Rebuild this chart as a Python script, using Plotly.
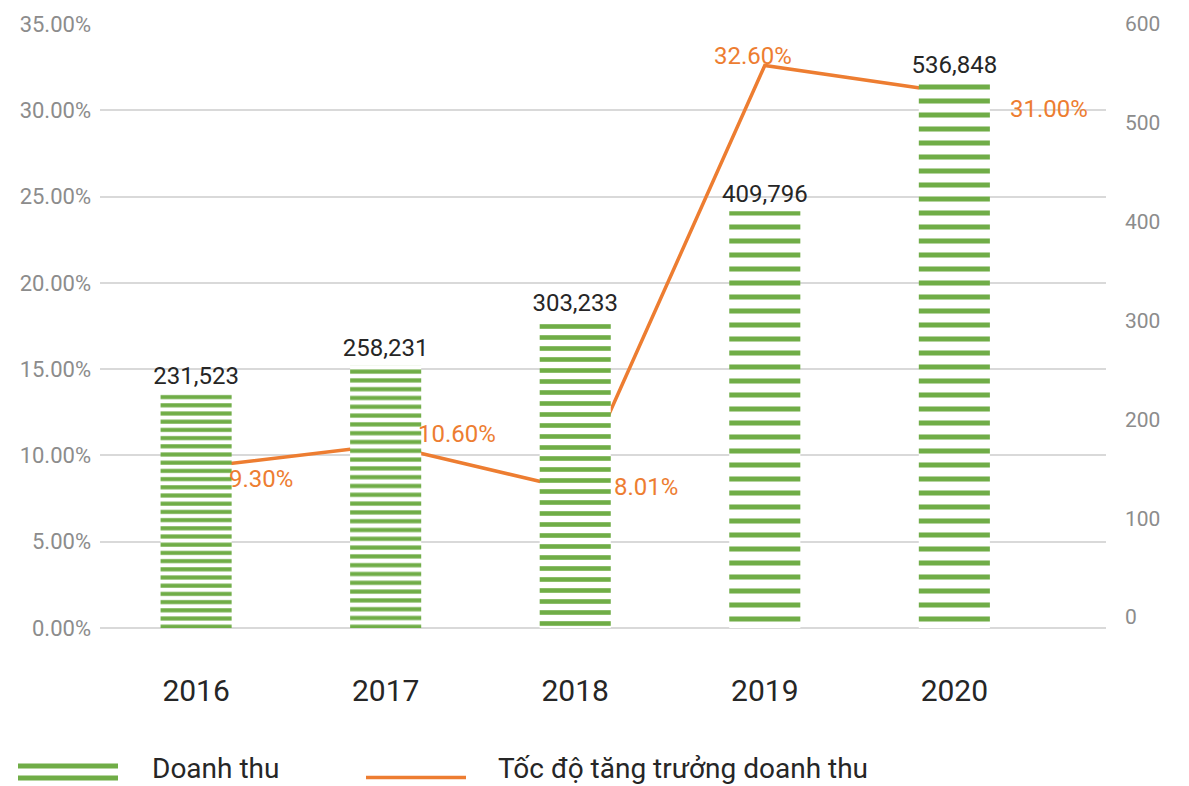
import plotly.graph_objects as go

# ---- data ----
years = ["2016", "2017", "2018", "2019", "2020"]
revenue = [231.523, 258.231, 303.233, 409.796, 536.848]
revenue_labels = ["231,523", "258,231", "303,233", "409,796", "536,848"]
growth = [9.30, 10.60, 8.01, 32.60, 31.00]
growth_labels = ["9.30%", "10.60%", "8.01%", "32.60%", "31.00%"]
right_ticks = [0, 100, 200, 300, 400, 500, 600]

# ---- styling ----
GREEN = "#70AD47"
ORANGE = "#ED7D31"
GRAY = "#8C8C8C"
GRID = "#D9D9D9"
FONT = "Roboto"

W, H = 1189, 786
L, R, T, B = 100, 1106, 22, 628  # plot area in pixels


def px(x):
    return (x - L) / (R - L)


def py(y):
    return (B - y) / (B - T)


stripe_size = [8.2, 8.8, 11, 14, 14]
stripe_solid = [0.5, 0.48, 0.42, 0.36, 0.36]

fig = go.Figure()

fig.add_trace(go.Bar(
    x=years, y=revenue, yaxis="y3", width=0.375,
    name="Doanh thu",
    marker=dict(color="white", line=dict(width=0),
                pattern=dict(shape="-", fgcolor=GREEN, bgcolor="white",
                             size=stripe_size, solidity=stripe_solid,
                             fillmode="replace")),
    text=revenue_labels, textposition="outside", constraintext="none",
    textfont=dict(family=FONT, size=24, color="#262626"),
    cliponaxis=False, showlegend=False,
))

fig.add_trace(go.Scatter(
    x=years, y=growth, yaxis="y", mode="lines",
    line=dict(color=ORANGE, width=3.5),
    name="Tốc độ tăng trưởng doanh thu", showlegend=False,
))

# empty trace so that the right-hand value axis is drawn
fig.add_trace(go.Scatter(x=[], y=[], yaxis="y2", mode="lines",
                         showlegend=False, hoverinfo="skip"))

# growth labels (offsets relative to each point); x given as category index
offs = [(31, -11, "left"), (30, 11, "left"), (37, 3, "left"),
        (-12, 9, "center"), (54, -16, "left")]
for i, (g, lab, (dx, dy, xa)) in enumerate(zip(growth, growth_labels, offs)):
    fig.add_annotation(x=i, y=g, xref="x", yref="y", text=lab,
                       showarrow=False, xanchor=xa, yanchor="middle",
                       xshift=dx, yshift=dy,
                       font=dict(family=FONT, size=24, color=ORANGE))

# ---- custom legend ----
shapes = []
for y0, y1 in [(764, 769), (776, 781)]:
    shapes.append(dict(type="rect", xref="paper", yref="paper",
                       x0=px(18), x1=px(118), y0=py(y1), y1=py(y0),
                       fillcolor=GREEN, line=dict(width=0)))
shapes.append(dict(type="line", xref="paper", yref="paper",
                   x0=px(366), x1=px(466), y0=py(778), y1=py(778),
                   line=dict(color=ORANGE, width=3.5)))
fig.add_annotation(x=px(150), y=py(769), xref="paper", yref="paper",
                   text="Doanh thu", showarrow=False, xanchor="left",
                   yanchor="middle", font=dict(family=FONT, size=28, color="#262626"))
fig.add_annotation(x=px(496), y=py(769), xref="paper", yref="paper",
                   text="Tốc độ tăng trưởng doanh thu", showarrow=False,
                   xanchor="left", yanchor="middle",
                   font=dict(family=FONT, size=28, color="#262626"))

fig.update_layout(
    width=W, height=H,
    margin=dict(l=L, r=W - R, t=T, b=H - B),
    paper_bgcolor="white", plot_bgcolor="white",
    shapes=shapes,
    xaxis=dict(type="category", range=[-0.507, 4.8], showgrid=False,
               showline=False, ticks="", ticklabelstandoff=42,
               tickfont=dict(family=FONT, size=30, color="#262626")),
    yaxis=dict(range=[0, 35], dtick=5, tick0=0, tickformat=".2f",
               ticksuffix="%", showgrid=True, gridcolor=GRID, gridwidth=2,
               zeroline=True, zerolinecolor=GRID, zerolinewidth=2,
               showline=False, ticks="", ticklabelstandoff=8,
               tickfont=dict(family=FONT, size=22, color=GRAY)),
    yaxis2=dict(overlaying="y", side="right", anchor="x", range=[-11, 600.01],
                tickvals=right_ticks,
                showgrid=False, zeroline=False, showline=False, ticks="",
                ticklabelstandoff=18,
                tickfont=dict(family=FONT, size=21, color=GRAY)),
    yaxis3=dict(overlaying="y", side="right", range=[0, 594], visible=False),
    bargap=0.5,
)

fig.write_html("out.html", config={"displayModeBar": False},
               post_script="document.body.style.margin='0';document.body.style.overflow='hidden';")
